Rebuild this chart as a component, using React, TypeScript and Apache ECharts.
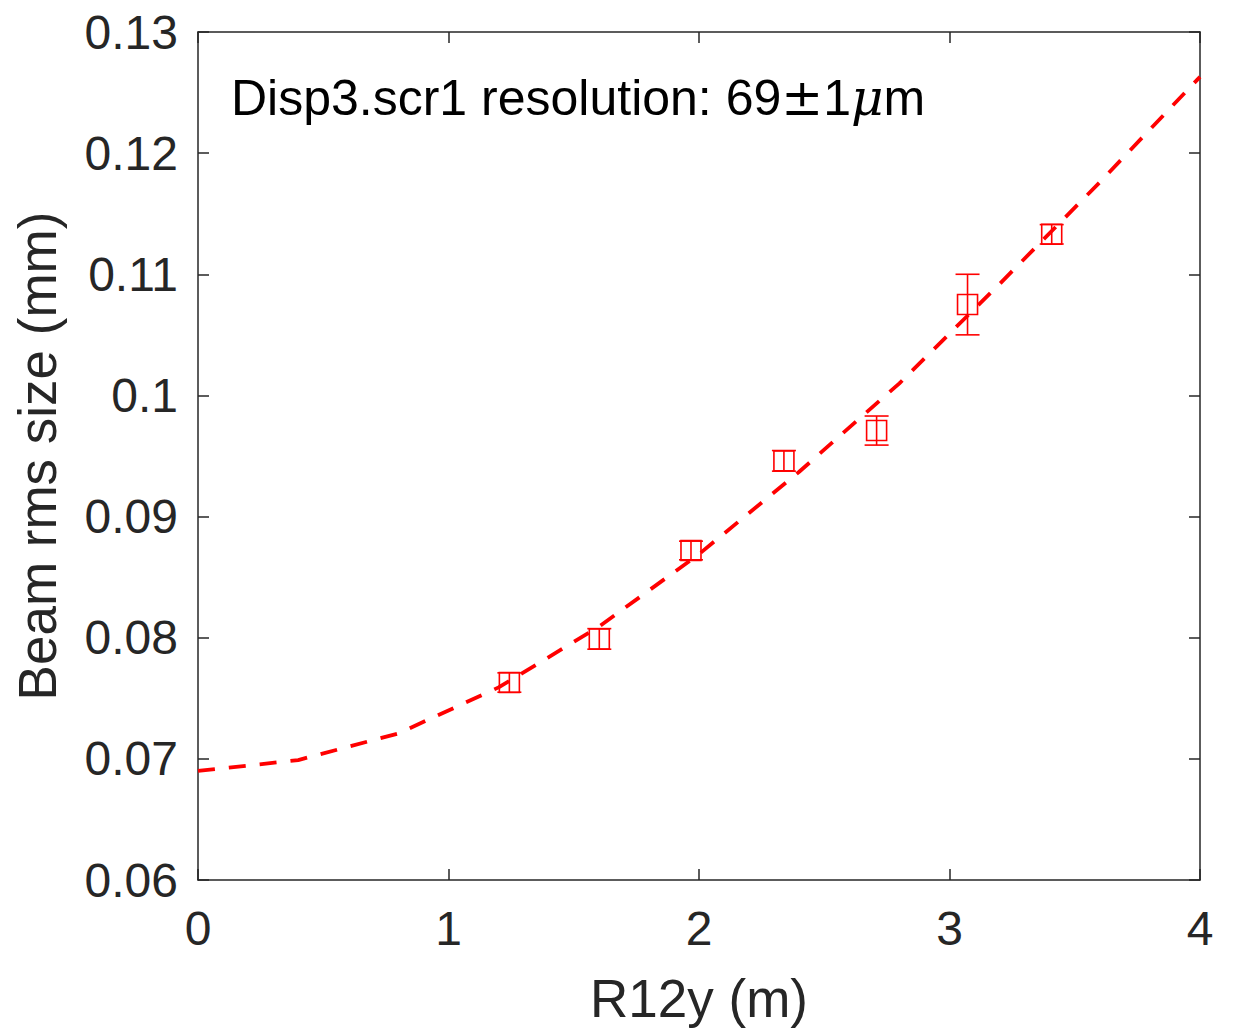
import React, { useEffect, useRef } from "react";
import * as echarts from "echarts";

const pointX = [1.243, 1.602, 1.968, 2.339, 2.709, 3.072, 3.408];
const pointY = [0.0763, 0.0799, 0.0872, 0.0946, 0.0971, 0.1075, 0.1133];
const pointErr = [0.0008, 0.00085, 0.00077, 0.00085, 0.0012, 0.0025, 0.0008];

const fitX = [0, 0.4, 0.8, 1.2, 1.6, 2.0, 2.4, 2.8, 3.2, 3.6, 4.0];
const fitY = [0.069, 0.0699, 0.0721, 0.0759, 0.0809, 0.0869, 0.0937, 0.101, 0.1092, 0.1176, 0.1263];

const xTicks = [0, 1, 2, 3, 4];
const yTicks = [0.06, 0.07, 0.08, 0.09, 0.1, 0.11, 0.12, 0.13];

const FONT = "'Liberation Sans', Arial, Helvetica, sans-serif";
const AXIS_COLOR = "#262626";
const RED = "#ff0000";

export default function App() {
  const ref = useRef<HTMLDivElement>(null);
  useEffect(() => {
    if (!ref.current) return;
    const chart = echarts.init(ref.current, undefined, { renderer: "svg" });
    const fmtY = (v: number) => {
      const r = Number(v.toFixed(2));
      return yTicks.some((t) => Math.abs(t - r) < 1e-9) ? r.toString() : "";
    };
    const axisBase = {
      axisLine: { show: true, onZero: false, lineStyle: { color: AXIS_COLOR, width: 1.5 } },
      axisTick: { show: true, inside: true, length: 11, lineStyle: { color: AXIS_COLOR, width: 1.5 } },
      splitLine: { show: false },
    };
    chart.setOption({
      animation: false,
      backgroundColor: "#ffffff",
      grid: { left: 198, right: 33, top: 32, bottom: 155, containLabel: false },
      xAxis: [
        {
          type: "value",
          min: 0,
          max: 4,
          interval: 1,
          position: "bottom",
          ...axisBase,
          axisLabel: {
            show: true,
            color: AXIS_COLOR,
            fontFamily: FONT,
            fontSize: 48,
            margin: 24,
            formatter: (v: number) => (xTicks.includes(v) ? String(v) : ""),
          },
          name: "R12y (m)",
          nameLocation: "middle",
          nameGap: 92,
          nameTextStyle: { color: AXIS_COLOR, fontFamily: FONT, fontSize: 53 },
        },
        {
          type: "value",
          min: 0,
          max: 4,
          interval: 1,
          position: "top",
          ...axisBase,
          axisLabel: { show: false },
        },
      ],
      yAxis: [
        {
          type: "value",
          min: 0.06,
          max: 0.13,
          interval: 0.01,
          position: "left",
          ...axisBase,
          axisLabel: {
            show: true,
            color: AXIS_COLOR,
            fontFamily: FONT,
            fontSize: 48,
            margin: 20,
            formatter: (v: number) => fmtY(v),
          },
          name: "Beam rms size (mm)",
          nameLocation: "middle",
          nameGap: 134,
          nameTextStyle: { color: AXIS_COLOR, fontFamily: FONT, fontSize: 53 },
        },
        {
          type: "value",
          min: 0.06,
          max: 0.13,
          interval: 0.01,
          position: "right",
          ...axisBase,
          axisLabel: { show: false },
        },
      ],
      series: [
        {
          type: "line",
          data: fitX.map((x, i) => [x, fitY[i]]),
          showSymbol: false,
          symbol: "none",
          lineStyle: { color: RED, width: 3.8, type: [17, 14] },
          z: 3,
        },
        {
          type: "custom",
          data: pointX.map((x, i) => [x, pointY[i], pointErr[i]]),
          renderItem: (params: any, api: any) => {
            const x = api.value(0);
            const y = api.value(1);
            const e = api.value(2);
            const c = api.coord([x, y]);
            const top = api.coord([x, y + e]);
            const bot = api.coord([x, y - e]);
            const half = 10;
            const cap = 12;
            const style = { stroke: RED, lineWidth: 1.6, fill: "none" };
            return {
              type: "group",
              children: [
                { type: "line", shape: { x1: c[0], y1: top[1], x2: c[0], y2: bot[1] }, style },
                { type: "line", shape: { x1: c[0] - cap, y1: top[1], x2: c[0] + cap, y2: top[1] }, style },
                { type: "line", shape: { x1: c[0] - cap, y1: bot[1], x2: c[0] + cap, y2: bot[1] }, style },
                { type: "rect", shape: { x: c[0] - half, y: c[1] - half, width: half * 2, height: half * 2 }, style },
              ],
            };
          },
          z: 4,
        },
      ],
      graphic: [
        {
          type: "text",
          left: 231,
          top: 73,
          style: {
            text: "{n|Disp3.scr1 resolution: 69}{pm|±}{n|1}{i|μ}{n|m}",
            rich: {
              n: { fontFamily: FONT, fontSize: 50, fill: "#000000" },
              pm: { fontFamily: "'DejaVu Serif', 'DejaVu Sans', serif", fontSize: 50, fill: "#000000" },
              i: { fontFamily: "'DejaVu Serif', serif", fontSize: 50, fontStyle: "italic", fill: "#000000" },
            },
          },
        },
      ],
    });
    return () => chart.dispose();
  }, []);
  return (
    <div
      ref={ref}
      style={{ position: "fixed", left: 0, top: 0, width: 1233, height: 1035, background: "#fff" }}
    />
  );
}
